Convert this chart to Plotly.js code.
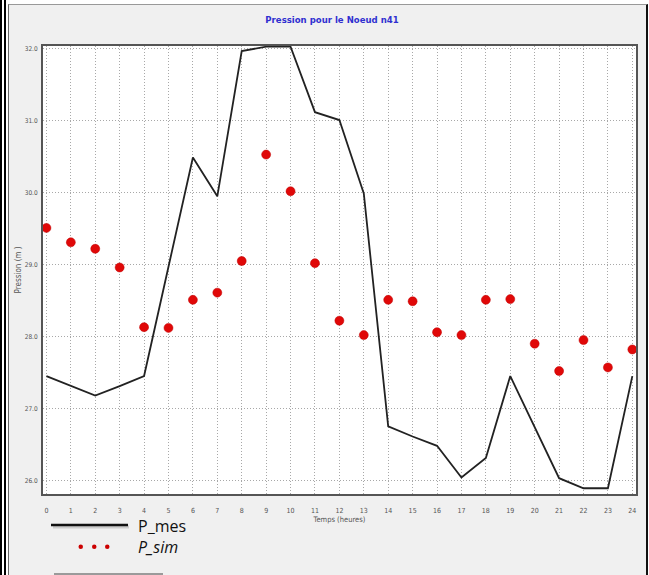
<!DOCTYPE html>
<html>
<head>
<meta charset="utf-8">
<script src="https://cdn.plot.ly/plotly-3.0.1.min.js"></script>
<style>
  html, body { margin:0; padding:0; width:649px; height:575px; overflow:hidden; background:#ffffff; }
  .bl { position:absolute; top:0; height:575px; background:#000; }
  #panel { position:absolute; left:8px; top:4px; width:637px; height:580px; background:#f0f0f0;
           border-left:1px solid #666; border-top:1px solid #999; border-right:2px solid #111; }
  #chart { position:absolute; left:0; top:0; width:649px; height:575px; }
</style>
</head>
<body>
<div class="bl" style="left:0px;width:2px;"></div>
<div class="bl" style="left:4px;width:1.5px;"></div>
<div id="panel"></div>
<div id="chart"></div>
<script>
// ---- data ----
const hours = [0,1,2,3,4,5,6,7,8,9,10,11,12,13,14,15,16,17,18,19,20,21,22,23,24];
const xTickLabels = ["0","1","2","3","4","5","6","7","8","9","10","11","12","13","14","15","16","17","18","19","20","21","22","23","24"];
const P_mes = [27.45,27.31,27.18,27.31,27.45,28.97,30.49,29.95,31.97,32.03,32.03,31.12,31.01,29.99,26.75,26.61,26.48,26.04,26.31,27.45,26.75,26.03,25.89,25.89,27.45];
const P_sim = [29.51,29.31,29.22,28.96,28.13,28.12,28.51,28.61,29.05,30.53,30.02,29.02,28.22,28.02,28.51,28.49,28.06,28.02,28.51,28.52,27.90,27.52,27.95,27.57,27.82];
const seriesNames = ["P_mes", "P_sim"];
const chartTitle = "Pression pour le Noeud n41";
const xTitle = "Temps (heures)";
const yTitle = "Pression (m )";

// ---- layout geometry ----
const FW = 649, FH = 575;
const L = 43, R = 13, T = 46, B = 81;
const W = FW - L - R, H = FH - T - B;
const px = x => (x - L) / W;
const py = y => 1 - (y - T) / H;
const narrow = '"Liberation Sans Narrow", "DejaVu Sans Condensed", "DejaVu Sans", sans-serif';

const traces = [
  { x: hours, y: P_mes, name: seriesNames[0], type: 'scatter', mode: 'lines',
    line: { color: '#222222', width: 1.8 }, hoverinfo: 'x+y' },
  { x: hours, y: P_sim, name: seriesNames[1], type: 'scatter', mode: 'markers',
    marker: { color: '#e00808', size: 9, line: { color: '#c00000', width: 0.5 } }, hoverinfo: 'x+y' }
];

const layout = {
  width: FW, height: FH,
  margin: { l: L, r: R, t: T, b: B, pad: 0 },
  paper_bgcolor: 'rgba(0,0,0,0)',
  plot_bgcolor: '#ffffff',
  showlegend: false,
  title: { text: chartTitle, x: 332 / FW, xref: 'container', xanchor: 'center',
           y: 1 - 20 / FH, yref: 'container', yanchor: 'middle',
           font: { family: narrow, size: 9.5, color: '#3030d0', weight: 'bold', stretch: 'condensed' } },
  xaxis: {
    range: [-0.14, 24.15], tickmode: 'array', tickvals: hours, ticktext: xTickLabels,
    showgrid: true, gridcolor: '#a8a8a8', griddash: '1px,2px', gridwidth: 1,
    zeroline: false, showline: true, mirror: true, linecolor: '#555555', linewidth: 2,
    ticks: '', ticklabelstandoff: 9,
    tickfont: { family: narrow, size: 7, color: '#555555', stretch: 'condensed' },
    title: { text: xTitle, standoff: 2, font: { family: narrow, size: 7.5, color: '#555555', stretch: 'condensed' } },
    automargin: false
  },
  yaxis: {
    range: [25.81, 32.04], tick0: 26, dtick: 1, tickformat: '.1f',
    showgrid: true, gridcolor: '#a8a8a8', griddash: '1px,2px', gridwidth: 1,
    zeroline: false, showline: true, mirror: true, linecolor: '#555555', linewidth: 2,
    ticks: '', ticklabelstandoff: 2,
    tickfont: { family: narrow, size: 6.5, color: '#555555', stretch: 'condensed' },
    title: { text: yTitle, standoff: 2, font: { family: narrow, size: 8, color: '#555555', stretch: 'condensed' } },
    automargin: false
  },
  shapes: [
    // legend line sample with soft shadow
    { type: 'line', xref: 'paper', yref: 'paper', x0: px(53), x1: px(129), y0: py(527), y1: py(527),
      line: { color: 'rgba(0,0,0,0.15)', width: 3 } },
    { type: 'line', xref: 'paper', yref: 'paper', x0: px(51), x1: px(128), y0: py(525), y1: py(525),
      line: { color: '#111111', width: 2.5 } },
    // legend dots
    { type: 'circle', xref: 'paper', yref: 'paper', x0: px(78.5), x1: px(83), y0: py(544.5), y1: py(549), fillcolor: '#cc0000', line: { width: 0 } },
    { type: 'circle', xref: 'paper', yref: 'paper', x0: px(92), x1: px(96.5), y0: py(544.5), y1: py(549), fillcolor: '#cc0000', line: { width: 0 } },
    { type: 'circle', xref: 'paper', yref: 'paper', x0: px(105), x1: px(109.5), y0: py(544.5), y1: py(549), fillcolor: '#cc0000', line: { width: 0 } },
    // grey line at bottom
    { type: 'line', xref: 'paper', yref: 'paper', x0: px(54), x1: px(163), y0: py(574), y1: py(574),
      line: { color: '#9a9a9a', width: 2 } }
  ],
  annotations: [
    { text: seriesNames[0], xref: 'paper', yref: 'paper', x: px(136), y: py(526), xanchor: 'left', yanchor: 'middle',
      showarrow: false, font: { family: '"Open Sans", sans-serif', size: 16, color: '#111111' } },
    { text: '<i>' + seriesNames[1] + '</i>', xref: 'paper', yref: 'paper', x: px(136), y: py(547), xanchor: 'left', yanchor: 'middle',
      showarrow: false, font: { family: '"Open Sans", sans-serif', size: 16, color: '#111111' } }
  ]
};

Plotly.newPlot('chart', traces, layout, { displayModeBar: false, staticPlot: true });
</script>
</body>
</html>
